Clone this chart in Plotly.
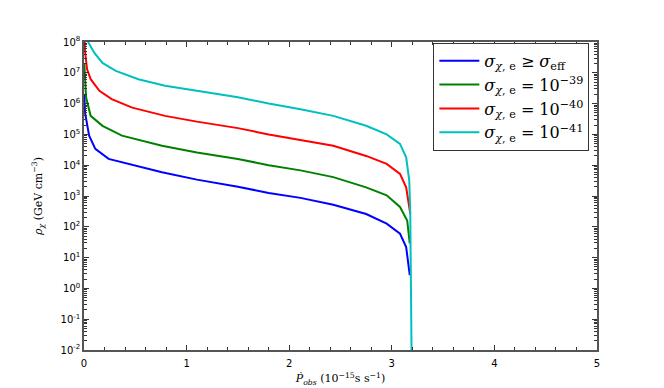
import plotly.graph_objects as go

# P_dot_obs (1e-15 s/s) and rho_chi (GeV cm^-3)
x_blue = [0.003, 0.01, 0.05, 0.11, 0.24, 0.44, 0.76, 1.1, 1.5, 1.8, 2.11, 2.43, 2.75, 2.95, 3.08, 3.14, 3.17, 3.175]
y_blue = [2.0e6, 5.1e5, 9.1e4, 3.4e4, 1.6e4, 1.1e4, 5.9e3, 3.4e3, 2.0e3, 1.26e3, 8.7e2, 5.2e2, 2.6e2, 1.26e2, 60, 22, 4.9, 2.7]

x_green = [0.003, 0.01, 0.02, 0.065, 0.18, 0.37, 0.76, 1.1, 1.5, 1.8, 2.11, 2.43, 2.75, 2.95, 3.08, 3.15, 3.17, 3.175]
y_green = [2.0e7, 5.0e6, 1.6e6, 4.0e5, 1.9e5, 9.1e4, 4.3e4, 2.6e4, 1.6e4, 1.0e4, 6.8e3, 4.1e3, 1.9e3, 1.05e3, 4.4e2, 1.6e2, 47, 29]

x_red = [0.003, 0.01, 0.03, 0.065, 0.15, 0.27, 0.47, 0.79, 1.1, 1.5, 1.8, 2.11, 2.43, 2.75, 2.95, 3.08, 3.14, 3.17, 3.18]
y_red = [2.0e8, 5.0e7, 1.3e7, 6.2e6, 2.6e6, 1.4e6, 7.4e5, 4.0e5, 2.6e5, 1.6e5, 1.0e5, 6.6e4, 4.3e4, 2.0e4, 1.1e4, 5.2e3, 1.9e3, 4.4e2, 2.7e2]

x_cyan = [0.003, 0.01, 0.03, 0.1, 0.18, 0.31, 0.53, 0.79, 1.1, 1.5, 1.8, 2.11, 2.43, 2.75, 2.95, 3.08, 3.14, 3.17, 3.18, 3.19, 3.195]
y_cyan = [2.0e9, 5.0e8, 1.15e8, 4.5e7, 2.1e7, 1.15e7, 6.2e6, 3.8e6, 2.6e6, 1.6e6, 1.0e6, 6.6e5, 4.0e5, 1.9e5, 1.0e5, 4.9e4, 1.8e4, 3.2e3, 2.7e2, 3.0, 1.0e-3]

names = ['<i>σ</i><sub><i>χ</i>, e</sub> ≥ <i>σ</i><sub>eff</sub>',
         '<i>σ</i><sub><i>χ</i>, e</sub> = 10<sup>−39</sup>',
         '<i>σ</i><sub><i>χ</i>, e</sub> = 10<sup>−40</sup>',
         '<i>σ</i><sub><i>χ</i>, e</sub> = 10<sup>−41</sup>']
colors = ['#0000ff', '#008000', '#ff0000', '#00bfbf']

y_exponents = list(range(-2, 9))
y_ticktext = ['10<sup>{}</sup>'.format(e) for e in y_exponents]

fig = go.Figure()
for xs, ys, name, color in zip([x_blue, x_green, x_red, x_cyan],
                               [y_blue, y_green, y_red, y_cyan], names, colors):
    fig.add_trace(go.Scatter(x=xs, y=ys, mode='lines', name=name,
                             line=dict(color=color, width=2)))

axis_common = dict(showline=True, linecolor='#555555', linewidth=1.5, mirror='allticks',
                   ticks='inside', tickcolor='#333333', ticklen=5, showgrid=False,
                   zeroline=False, tickfont=dict(family='DejaVu Sans', size=10, color='black'))

fig.update_xaxes(range=[0, 5], tickvals=[0, 1, 2, 3, 4, 5], ticklabelstandoff=3,
                 minor=dict(dtick=0.2, ticks='inside', ticklen=3, tickcolor='#333333'),
                 title=dict(text='<i>Ṗ</i><sub><i>obs</i></sub> (10<sup>−15</sup>s s<sup>−1</sup>)',
                            font=dict(family='DejaVu Serif', size=11, color='black'), standoff=7),
                 **axis_common)
fig.update_yaxes(type='log', range=[-2, 8],
                 tickvals=[10.0 ** e for e in y_exponents], ticktext=y_ticktext,
                 minor=dict(ticks='inside', ticklen=3, tickcolor='#333333', dtick='D1'),
                 title=dict(text='<i>ρ</i><sub><i>χ</i></sub> (GeV cm<sup>−3</sup>)',
                            font=dict(family='DejaVu Serif', size=11, color='black'), standoff=16),
                 **axis_common)

fig.update_layout(
    width=664, height=388,
    margin=dict(l=76, r=75, t=34, b=46),
    paper_bgcolor='white', plot_bgcolor='white',
    legend=dict(x=0.681, y=0.997, xanchor='left', yanchor='top',
                bgcolor='white', bordercolor='#333333', borderwidth=1,
                font=dict(family='DejaVu Serif', size=16, color='black'),
                itemwidth=40, tracegroupgap=0),
    showlegend=True,
)

fig.write_html("out.html")
